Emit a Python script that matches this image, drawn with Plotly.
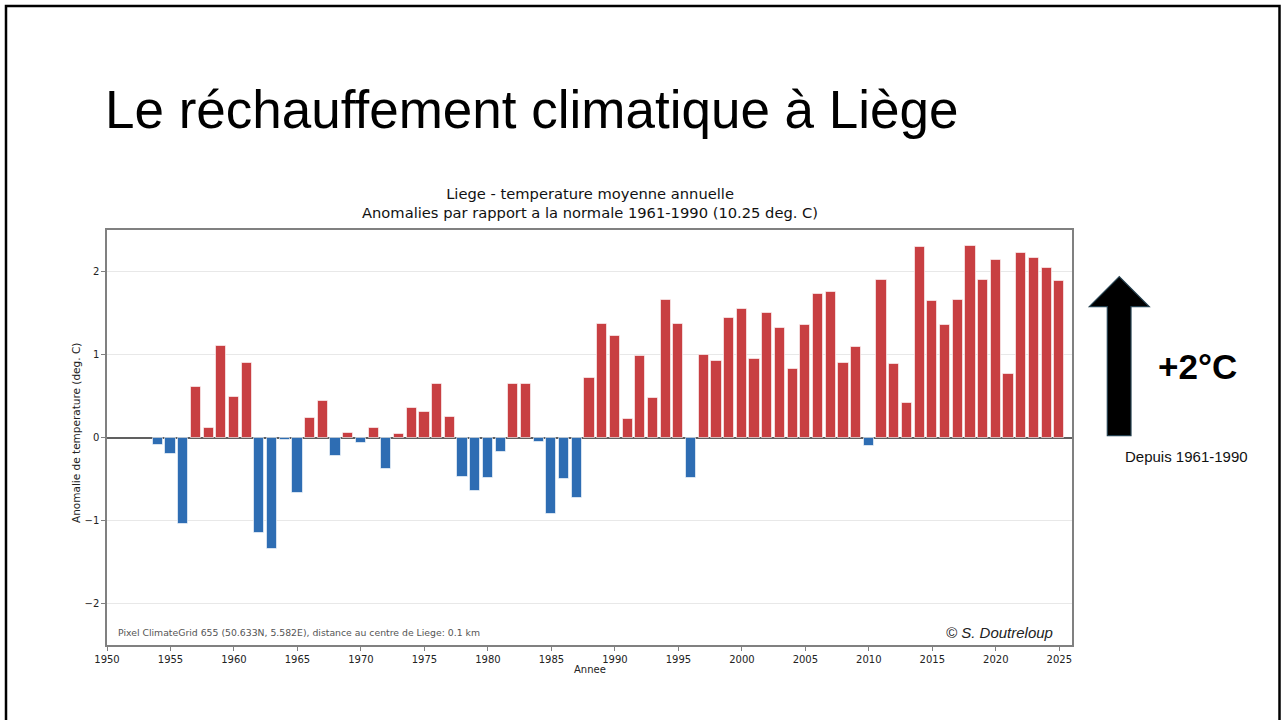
import plotly.graph_objects as go

years = list(range(1954, 2026))
anomalies = [
    -0.09, -0.20, -1.04, 0.61, 0.12, 1.10, 0.49, 0.90, -1.15, -1.34,   # 1954-1963
    -0.03, -0.67, 0.24, 0.44, -0.22, 0.05, -0.07, 0.12, -0.38, 0.04,   # 1964-1973
    0.36, 0.31, 0.65, 0.25, -0.48, -0.65, -0.49, -0.18, 0.64, 0.64,    # 1974-1983
    -0.06, -0.92, -0.50, -0.73, 0.72, 1.37, 1.22, 0.22, 0.98, 0.47,    # 1984-1993
    1.66, 1.37, -0.49, 1.00, 0.92, 1.44, 1.55, 0.94, 1.50, 1.32,       # 1994-2003
    0.83, 1.35, 1.73, 1.75, 0.90, 1.09, -0.10, 1.90, 0.88, 0.41,       # 2004-2013
    2.29, 1.64, 1.35, 1.66, 2.31, 1.90, 2.14, 0.76, 2.22, 2.16,        # 2014-2023
    2.04, 1.89,                                                         # 2024-2025
]
x_ticks = list(range(1950, 2030, 5))
y_ticks = [-2, -1, 0, 1, 2]
y_tick_text = ["\u22122", "\u22121", "0", "1", "2"]

RED = "#c83f42"
BLUE = "#2e6db3"
colors = [RED if v >= 0 else BLUE for v in anomalies]

W, H = 1284, 720
L, R, T, B = 107, 1072, 230, 645


def px(x):
    return (x - L) / (R - L)


def py(y):
    return (B - y) / (B - T)


fig = go.Figure()
fig.add_trace(go.Bar(
    x=years, y=anomalies, width=0.8,
    marker=dict(color=colors, line=dict(color="rgba(255,255,255,0.6)", width=1)),
    showlegend=False, hoverinfo="x+y",
))

fig.update_layout(
    width=W, height=H,
    margin=dict(l=L, r=W - R, t=T, b=H - B, pad=0),
    paper_bgcolor="white", plot_bgcolor="white",
    font=dict(family="DejaVu Sans", color="#222"),
    bargap=0,
    xaxis=dict(
        range=[1950, 2026], tickvals=x_ticks, ticktext=[str(t) for t in x_ticks],
        showgrid=False, zeroline=False,
        showline=True, linecolor="#808080", linewidth=1.5, mirror=True,
        ticks="outside", ticklen=4, tickcolor="#808080", tickwidth=1,
        tickfont=dict(size=10, family="DejaVu Sans", color="#222"),
    ),
    yaxis=dict(
        range=[-2.5, 2.5], tickvals=y_ticks, ticktext=y_tick_text,
        showgrid=True, gridcolor="#e8e8e8", gridwidth=1,
        zeroline=True, zerolinecolor="#606060", zerolinewidth=1.5,
        showline=True, linecolor="#808080", linewidth=1.5, mirror=True,
        ticks="outside", ticklen=4, tickcolor="#808080", tickwidth=1,
        tickfont=dict(size=10, family="DejaVu Sans", color="#222"),
    ),
)

shapes = []
# slide border
shapes.append(dict(type="rect", xref="paper", yref="paper",
                   x0=px(6), x1=px(1279.5), y0=py(730), y1=py(6),
                   line=dict(color="black", width=2.5), fillcolor="rgba(0,0,0,0)", layer="above"))
# arrow
pts = [(1119.3, 276.7), (1149.3, 306.7), (1131, 306.7), (1131, 435.7),
       (1107.3, 435.7), (1107.3, 306.7), (1089.3, 306.7)]
path = "M " + " L ".join(f"{px(a):.5f},{py(b):.5f}" for a, b in pts) + " Z"
shapes.append(dict(type="path", xref="paper", yref="paper", path=path,
                   fillcolor="black", line=dict(color="#24404f", width=1.2), layer="above"))
fig.update_layout(shapes=shapes)

ann = []
ann.append(dict(text="Le réchauffement climatique à Liège", xref="paper", yref="paper",
                x=px(103), y=py(110), xanchor="left", yanchor="middle", showarrow=False,
                font=dict(family="Liberation Sans", size=53, color="black")))
ann.append(dict(text="Liege - temperature moyenne annuelle<br>Anomalies par rapport a la normale 1961-1990 (10.25 deg. C)",
                xref="paper", yref="paper", x=px(589.5), y=py(203), xanchor="center", yanchor="middle",
                showarrow=False, align="center",
                font=dict(family="DejaVu Sans", size=14.7, color="#111")))
ann.append(dict(text="Anomalie de temperature (deg. C)", xref="paper", yref="paper",
                x=px(76), y=py(433), xanchor="center", yanchor="middle", textangle=-90,
                showarrow=False, font=dict(family="DejaVu Sans", size=10.5, color="#222")))
ann.append(dict(text="Annee", xref="paper", yref="paper",
                x=px(589.5), y=py(669), xanchor="center", yanchor="middle",
                showarrow=False, font=dict(family="DejaVu Sans", size=10, color="#222")))
ann.append(dict(text="Pixel ClimateGrid 655 (50.633N, 5.582E), distance au centre de Liege: 0.1 km",
                xref="paper", yref="paper", x=px(116), y=py(632), xanchor="left", yanchor="middle",
                showarrow=False, font=dict(family="DejaVu Sans", size=9.3, color="#555")))
ann.append(dict(text="<i>© S. Doutreloup</i>", xref="paper", yref="paper",
                x=px(1055), y=py(632), xanchor="right", yanchor="middle",
                showarrow=False, font=dict(family="Liberation Sans", size=15, color="#222")))
ann.append(dict(text="<b>+2°C</b>", xref="paper", yref="paper",
                x=px(1197), y=py(366), xanchor="center", yanchor="middle",
                showarrow=False, font=dict(family="Liberation Sans", size=35, color="black")))
ann.append(dict(text="Depuis 1961-1990", xref="paper", yref="paper",
                x=px(1186), y=py(456), xanchor="center", yanchor="middle",
                showarrow=False, font=dict(family="Liberation Sans", size=15, color="#111")))
fig.update_layout(annotations=ann)

fig.write_html("out.html", config={"displayModeBar": False},
               post_script="document.body.style.margin='0';document.body.style.overflow='hidden';")
